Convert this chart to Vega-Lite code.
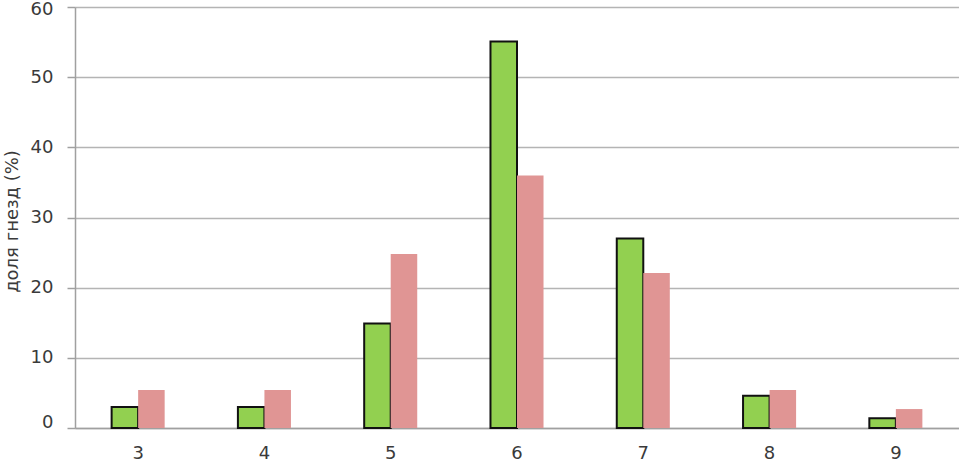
{
  "$schema": "https://vega.github.io/schema/vega-lite/v6.json",
  "width": 884,
  "height": 421,
  "autosize": {"type": "none"},
  "padding": {"left": 75, "top": 7, "right": 0, "bottom": 35},
  "background": "white",
  "data": {
    "values": [
      {"cat": "3", "series": "1", "value": 3.0},
      {"cat": "3", "series": "2", "value": 5.4},
      {"cat": "4", "series": "1", "value": 3.0},
      {"cat": "4", "series": "2", "value": 5.4},
      {"cat": "5", "series": "1", "value": 14.9},
      {"cat": "5", "series": "2", "value": 24.8},
      {"cat": "6", "series": "1", "value": 55.1},
      {"cat": "6", "series": "2", "value": 36.0},
      {"cat": "7", "series": "1", "value": 27.0},
      {"cat": "7", "series": "2", "value": 22.1},
      {"cat": "8", "series": "1", "value": 4.6},
      {"cat": "8", "series": "2", "value": 5.4},
      {"cat": "9", "series": "1", "value": 1.4},
      {"cat": "9", "series": "2", "value": 2.7}
    ]
  },
  "config": {
    "view": {"stroke": null},
    "font": "DejaVu Sans",
    "axis": {"labelFont": "DejaVu Sans", "titleFont": "DejaVu Sans"}
  },
  "mark": {"type": "bar", "strokeJoin": "miter"},
  "encoding": {
    "x": {
      "field": "cat",
      "type": "ordinal",
      "scale": {"paddingInner": 0.58, "paddingOuter": 0.29},
      "axis": {
        "title": null,
        "labelAngle": 0,
        "labelFontSize": 18,
        "labelColor": "#3a3a3a",
        "labelPadding": 16,
        "ticks": false,
        "domainColor": "#A0A0A0",
        "domainWidth": 1.5,
        "grid": false
      }
    },
    "xOffset": {"field": "series", "type": "nominal"},
    "y": {
      "field": "value",
      "type": "quantitative",
      "scale": {"domain": [0, 60], "nice": false},
      "axis": {
        "title": "доля гнезд (%)",
        "titleFontSize": 18,
        "titleFontWeight": "normal",
        "titleColor": "#3a3a3a",
        "titleX": -63,
        "titleY": 214,
        "titleBaseline": "middle",
        "titleAngle": -90,
        "values": [0, 10, 20, 30, 40, 50, 60],
        "labelFontSize": 18,
        "labelColor": "#3a3a3a",
        "labelPadding": 14,
        "labelOffset": {
          "condition": [
            {"test": "datum.value === 60", "value": 2},
            {"test": "datum.value === 0", "value": -6}
          ],
          "value": 0
        },
        "tickSize": 8,
        "tickColor": "#A0A0A0",
        "tickWidth": 1.5,
        "domainColor": "#A0A0A0",
        "domainWidth": 1.5,
        "gridColor": "#B4B4B4",
        "gridWidth": 1.5
      }
    },
    "color": {
      "field": "series",
      "type": "nominal",
      "scale": {"domain": ["1", "2"], "range": ["#92D050", "#E09594"]},
      "legend": null
    },
    "stroke": {
      "field": "series",
      "type": "nominal",
      "scale": {"domain": ["1", "2"], "range": ["#111111", "#E09594"]},
      "legend": null
    },
    "strokeWidth": {
      "field": "series",
      "type": "nominal",
      "scale": {"domain": ["1", "2"], "range": [2, 0]},
      "legend": null
    }
  }
}
